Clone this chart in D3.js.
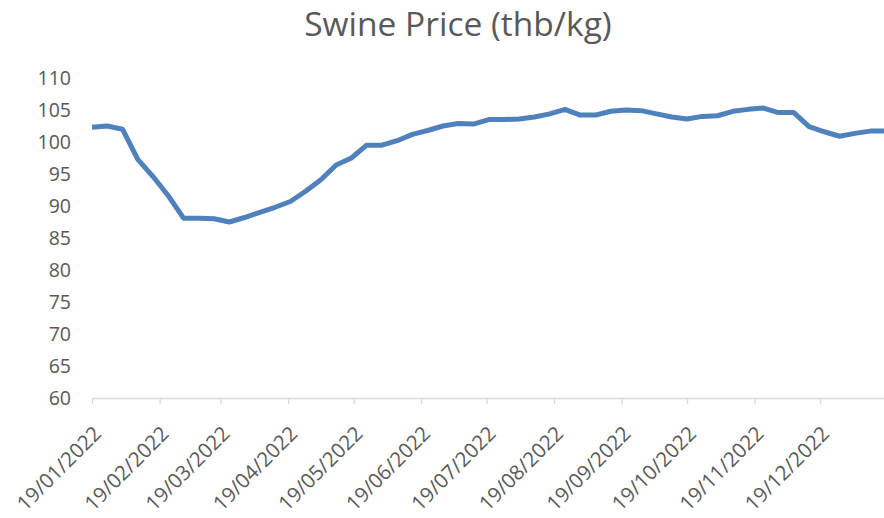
<!DOCTYPE html>
<html>
<head>
<meta charset="utf-8">
<script src="https://cdn.jsdelivr.net/npm/d3@7"></script>
<style>
  body { margin: 0; background: #fff; }
  text { font-family: "Open Sans", "Noto Sans", sans-serif; fill: #595959; }
</style>
</head>
<body>
<div id="chart"></div>
<script>
// weekly swine price, 2022
var dates = [
  '2022-01-19', '2022-01-26', '2022-02-02', '2022-02-09', '2022-02-16', '2022-02-23',
  '2022-03-02', '2022-03-09', '2022-03-16', '2022-03-23', '2022-03-30',
  '2022-04-06', '2022-04-13', '2022-04-20', '2022-04-27',
  '2022-05-04', '2022-05-11', '2022-05-18', '2022-05-25',
  '2022-06-01', '2022-06-08', '2022-06-15', '2022-06-22', '2022-06-29',
  '2022-07-06', '2022-07-13', '2022-07-20', '2022-07-27',
  '2022-08-03', '2022-08-10', '2022-08-17', '2022-08-24', '2022-08-31',
  '2022-09-07', '2022-09-14', '2022-09-21', '2022-09-28',
  '2022-10-05', '2022-10-12', '2022-10-19', '2022-10-26',
  '2022-11-02', '2022-11-09', '2022-11-16', '2022-11-23', '2022-11-30',
  '2022-12-07', '2022-12-14', '2022-12-21', '2022-12-28',
  '2023-01-04', '2023-01-11', '2023-01-18'
];
var prices = [
  102.3, 102.5, 102.0, 97.3, 94.6, 91.6,
  88.1, 88.1, 88.0, 87.5, 88.2,
  89.0, 89.8, 90.7, 92.3,
  94.1, 96.4, 97.5, 99.5,
  99.5, 100.2, 101.2, 101.8, 102.5,
  102.9, 102.8, 103.5, 103.5,
  103.6, 103.9, 104.4, 105.1, 104.2,
  104.2, 104.8, 105.0, 104.9,
  104.4, 103.9, 103.6, 104.0,
  104.1, 104.8, 105.1, 105.3, 104.6,
  104.6, 102.4, 101.6, 100.9,
  101.35, 101.7, 101.7
];
var xTickLabels = [
  '19/01/2022', '19/02/2022', '19/03/2022', '19/04/2022', '19/05/2022', '19/06/2022',
  '19/07/2022', '19/08/2022', '19/09/2022', '19/10/2022', '19/11/2022', '19/12/2022'
];
var yTicks = [60, 65, 70, 75, 80, 85, 90, 95, 100, 105, 110];

var svgWidth = 884;
var svgHeight = 518;

var margin = { top: 78, right: 0, bottom: 120, left: 92 };
var width = svgWidth - margin.left - margin.right;
var height = svgHeight - margin.top - margin.bottom;

var parseIso = d3.timeParse('%Y-%m-%d');
var parseLabel = d3.timeParse('%d/%m/%Y');

var data = dates.map(function(d, i) {
  return { date: parseIso(d), price: prices[i] };
});

var svg = d3.select('#chart')
  .append('svg')
  .attr('width', svgWidth)
  .attr('height', svgHeight);

// title
svg.append('text')
  .attr('x', 458)
  .attr('y', 36)
  .attr('text-anchor', 'middle')
  .style('font-size', '33.5px')
  .text('Swine Price (thb/kg)');

var chartGroup = svg.append('g')
  .attr('transform', `translate(${margin.left}, ${margin.top})`);

var xScale = d3.scaleTime()
  .domain([data[0].date, data[data.length - 1].date])
  .range([0, 793.4]);

var yScale = d3.scaleLinear()
  .domain([60, 110])
  .range([height, 0]);

// y axis (labels only)
var leftAxis = d3.axisLeft(yScale)
  .tickValues(yTicks)
  .tickSize(0)
  .tickPadding(21);

chartGroup.append('g')
  .call(leftAxis)
  .call(g => g.select('.domain').remove())
  .selectAll('text')
  .style('font-size', '19.5px')
  .attr('fill', '#595959');

// x axis
var bottomAxis = d3.axisBottom(xScale)
  .tickValues(xTickLabels.map(parseLabel))
  .tickFormat((d, i) => xTickLabels[i])
  .tickSize(6)
  .tickSizeOuter(0);

var xAxis = chartGroup.append('g')
  .attr('transform', `translate(0, ${height})`)
  .call(bottomAxis);

xAxis.select('.domain').attr('stroke', '#d9d9d9').attr('stroke-width', 1.3);
xAxis.selectAll('line').attr('stroke', '#d9d9d9').attr('stroke-width', 1.3);
xAxis.selectAll('text')
  .style('font-size', '20.5px')
  .attr('fill', '#595959')
  .attr('text-anchor', 'end')
  .attr('dy', null)
  .attr('y', 0)
  .attr('transform', 'translate(10, 37) rotate(-45)');

// price line
var line = d3.line()
  .x(d => xScale(d.date))
  .y(d => yScale(d.price));

chartGroup.append('path')
  .datum(data)
  .attr('fill', 'none')
  .attr('stroke', '#4f81bd')
  .attr('stroke-width', 5)
  .attr('stroke-linejoin', 'round')
  .attr('d', line);
</script>
</body>
</html>
